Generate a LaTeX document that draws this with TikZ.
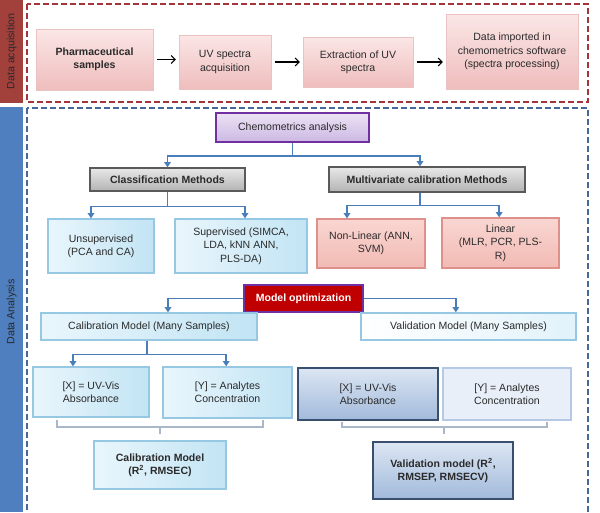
\documentclass[tikz,border=0pt]{standalone}
\usepackage{fontspec}
\setmainfont{Liberation Sans}
\usetikzlibrary{arrows.meta}

\definecolor{acqred}{HTML}{A2403C}
\definecolor{anablue}{HTML}{4F7FBE}
\definecolor{framered}{HTML}{A3353B}
\definecolor{frameblue}{HTML}{46699A}
\definecolor{linkblue}{HTML}{4A7EBB}
\definecolor{textgray}{HTML}{2A2A2A}
\definecolor{pinktop}{HTML}{FBE6E6}
\definecolor{pinkbot}{HTML}{EFBDBD}
\definecolor{pinkline}{HTML}{EBC2C2}
\definecolor{lilactop}{HTML}{EBE3F4}
\definecolor{lilacbot}{HTML}{CDB8E4}
\definecolor{lilacline}{HTML}{7030A0}
\definecolor{graytop}{HTML}{E8E8E8}
\definecolor{graybot}{HTML}{B3B3B3}
\definecolor{grayline}{HTML}{5A5A5A}
\definecolor{skyleft}{HTML}{E9F6FC}
\definecolor{skyright}{HTML}{C2E4F4}
\definecolor{skyline}{HTML}{96C8E4}
\definecolor{rosetop}{HTML}{F9D6D2}
\definecolor{rosebot}{HTML}{F2BAB4}
\definecolor{roseline}{HTML}{DE918B}
\definecolor{optred}{HTML}{C00000}
\definecolor{navytop}{HTML}{DCE6F3}
\definecolor{navybot}{HTML}{A2BADB}
\definecolor{navyline}{HTML}{3A4F6E}
\definecolor{palefill}{HTML}{E8EFF9}
\definecolor{paleline}{HTML}{B5C8E6}
\definecolor{bracketgray}{HTML}{A9B7C8}

\tikzset{
  box/.style={rectangle, align=center, inner sep=2pt, text=textgray,
    font=\fontsize{7.9}{10}\selectfont},
  pinkbox/.style={box, draw=pinkline, line width=0.6pt, top color=pinktop, bottom color=pinkbot},
  lilacbox/.style={box, draw=lilacline, line width=1.2pt, top color=lilactop, bottom color=lilacbot},
  graybox/.style={box, draw=grayline, line width=1pt, top color=graytop, bottom color=graybot},
  skybox/.style={box, draw=skyline, line width=1pt, left color=skyleft, right color=skyright},
  frostbox/.style={box, draw=skyline, line width=1pt, left color=white, right color=skyleft!80!skyright},
  rosebox/.style={box, draw=roseline, line width=1pt, top color=rosetop, bottom color=rosebot},
  optbox/.style={box, draw=lilacline, line width=1pt, fill=optred, text=white},
  navybox/.style={box, draw=navyline, line width=1.5pt, top color=navytop, bottom color=navybot},
  palebox/.style={box, draw=paleline, line width=1pt, fill=palefill},
  barlabel/.style={rotate=90, text=textgray, font=\fontsize{8}{9}\selectfont},
  frame/.style={line width=1.5pt, dash pattern=on 4.5pt off 2.25pt},
  flow/.style={-{Straight Barb[length=3pt,width=6pt]}, line width=0.8pt, shorten <=3pt, shorten >=2pt},
  link/.style={-{Triangle[length=4pt,width=5pt]}, draw=linkblue, line width=1.1pt},
  bracket/.style={draw=bracketgray, line width=0.8pt}
}

\begin{document}
\begin{tikzpicture}[x=0.75pt,y=0.75pt,yscale=-1,xscale=1]
        \useasboundingbox (0,0) rectangle (600,512);
        \fill[acqred] (0,0) rectangle (23,103);
        \fill[anablue] (0,107) rectangle (23,512);
        \node[barlabel] (acqlabel) at (11.5,51.5) {Data acquisition};
        \node[barlabel] (analabel) at (11.5,312) {Data Analysis};
        \draw[frame, draw=framered] (27,4) rectangle (588,102);
        \draw[frame, draw=frameblue] (27,108) rectangle (588,520);

        \node[pinkbox, minimum width=87.75pt, minimum height=45.75pt] (pharm) at (94.5,59.5) {\textbf{Pharmaceutical}\\\textbf{samples}};
        \node[pinkbox, minimum width=69pt, minimum height=40.5pt] (uvacq) at (225,62) {UV spectra\\acquisition};
        \node[pinkbox, minimum width=82.5pt, minimum height=37.5pt] (extract) at (358,62) {Extraction of UV\\spectra};
        \node[pinkbox, minimum width=99pt, minimum height=56.25pt] (imported) at (512,51.5) {Data imported in\\chemometrics software\\(spectra processing)};
        \draw[flow] (pharm.east) -- (pharm.east -| uvacq.west);
        \draw[flow] (uvacq.east) -- (uvacq.east -| extract.west);
        \draw[flow] (extract.east) -- (extract.east -| imported.west);

        \node[lilacbox, minimum width=114.75pt, minimum height=21.75pt] (chemo) at (292.5,127.5) {Chemometrics analysis};
        \node[graybox, minimum width=116.25pt, minimum height=17.25pt] (classif) at (167.5,179.5) {\textbf{Classification Methods}};
        \node[graybox, minimum width=147pt, minimum height=18.75pt] (multiv) at (427,179.5) {\textbf{Multivariate calibration Methods}};
        \node[skybox, minimum width=79.5pt, minimum height=40.5pt] (unsup) at (101,246) {Unsupervised\\(PCA and CA)};
        \node[skybox, minimum width=99pt, minimum height=40.5pt] (superv) at (241,246) {Supervised (SIMCA,\\LDA, kNN ANN,\\PLS-DA)};
        \node[rosebox, minimum width=81pt, minimum height=36.75pt] (nonlin) at (371,243.5) {Non-Linear (ANN,\\SVM)};
        \node[rosebox, minimum width=87.75pt, minimum height=37.5pt] (linear) at (500.5,243) {Linear\\(MLR, PCR, PLS-\\R)};
        \draw[link] (chemo.south) -- ++(0,13) -| (classif.north);
        \draw[link] (chemo.south) -- ++(0,13) -| ([xshift=-5.25pt]multiv.north);
        \draw[link] (classif.south) -- ++(0,15) -| ([xshift=-7.5pt]unsup.north);
        \draw[link] (classif.south) -- ++(0,15) -| ([xshift=3pt]superv.north);
        \draw[link] ([xshift=-5.25pt]multiv.south) -- ++(0,13) -| ([xshift=-18pt]nonlin.north);
        \draw[link] ([xshift=-5.25pt]multiv.south) -- ++(0,13) -| ([xshift=-1pt]linear.north);

        \node[optbox, minimum width=89.25pt, minimum height=20.25pt] (modelopt) at (303.5,298.5) {\textbf{Model optimization}};
        \node[skybox, minimum width=162pt, minimum height=20.25pt] (calmod) at (149,326.5) {Calibration Model (Many Samples)};
        \node[frostbox, minimum width=161.25pt, minimum height=20.25pt] (valmod) at (468.5,326.5) {Validation Model (Many Samples)};
        \draw[link] (modelopt.west) -| ([xshift=14.25pt]calmod.north);
        \draw[link] (modelopt.east) -| ([xshift=-9.5pt]valmod.north);

        \node[skybox, minimum width=87pt, minimum height=37.5pt] (calx) at (91,392) {[X] = UV-Vis\\Absorbance};
        \node[skybox, minimum width=96.75pt, minimum height=38.25pt] (caly) at (227.5,392.5) {[Y] = Analytes\\Concentration};
        \node[skybox, minimum width=99pt, minimum height=36pt] (calres) at (160,465) {\textbf{Calibration Model}\\\textbf{(R\textsuperscript{2}, RMSEC)}};
        \draw[link] ([xshift=-1.5pt]calmod.south) -- ++(0,14) -| ([xshift=-13.5pt]calx.north);
        \draw[link] ([xshift=-1.5pt]calmod.south) -- ++(0,14) -| ([xshift=-1pt]caly.north);
        \draw[bracket] (57,420) -- (57,427) -- (263,427) -- (263,420);
        \draw[bracket] (160,427) -- (160,434);

        \node[navybox, minimum width=105pt, minimum height=39pt] (valx) at (368,394) {[X] = UV-Vis\\Absorbance};
        \node[palebox, minimum width=96pt, minimum height=39pt] (valy) at (507,394) {[Y] = Analytes\\Concentration};
        \node[navybox, minimum width=105pt, minimum height=42.75pt] (valres) at (443,470.5) {\textbf{Validation model (R\textsuperscript{2},}\\\textbf{RMSEP, RMSECV)}};
        \draw[bracket] (342,422) -- (342,427) -- (547,427) -- (547,422);
        \draw[bracket] (444,427) -- (444,434);
\end{tikzpicture}
\end{document}
